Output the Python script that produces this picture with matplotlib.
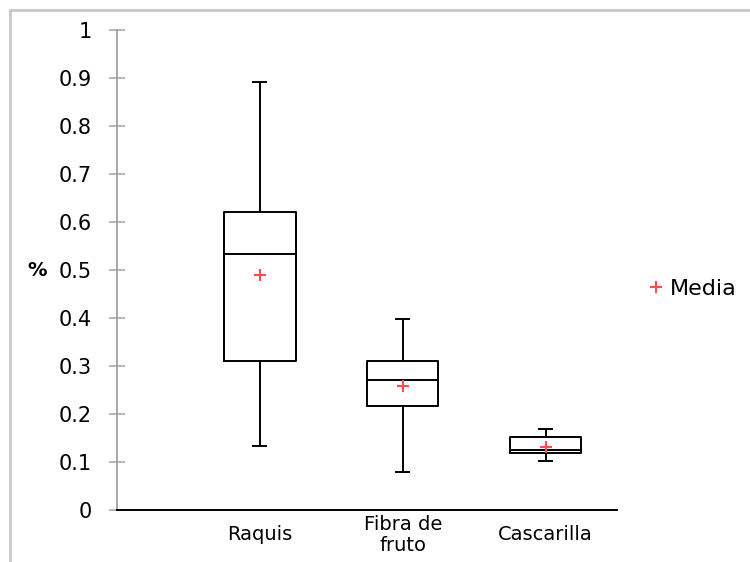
import matplotlib.pyplot as plt
from matplotlib.lines import Line2D
from matplotlib.patches import Rectangle

# box plot summaries
categories = ['Raquis', 'Fibra de\nfruto', 'Cascarilla']
whisker_low = [0.133, 0.080, 0.102]
q1 = [0.310, 0.217, 0.119]
median = [0.533, 0.270, 0.126]
q3 = [0.620, 0.310, 0.153]
whisker_high = [0.892, 0.398, 0.168]
mean = [0.490, 0.258, 0.132]

y_ticks = [0, 0.1, 0.2, 0.3, 0.4, 0.5, 0.6, 0.7, 0.8, 0.9, 1]
y_tick_labels = ['0', '0.1', '0.2', '0.3', '0.4', '0.5', '0.6', '0.7', '0.8', '0.9', '1']

stats = []
for i in range(len(categories)):
	stats.append({'whislo': whisker_low[i], 'q1': q1[i], 'med': median[i],
				  'q3': q3[i], 'whishi': whisker_high[i], 'mean': mean[i],
				  'fliers': []})

fig = plt.figure(figsize=(7.5, 5.62), dpi=100)
ax = fig.add_axes([117/750, 1 - 510/562, 500/750, 480/562])

# light grey frame around the chart area
fig.patches.append(Rectangle((10/750, -0.1), 1.2, 1 - 10/562 + 0.1, transform=fig.transFigure,
							 fill=False, edgecolor='#c8c8c8', linewidth=2))

line = {'color': 'black', 'linewidth': 1.4}
ax.bxp(stats, positions=[1, 2, 3], widths=0.5, capwidths=0.09, showmeans=True,
	   showfliers=False, boxprops=line, whiskerprops=line, capprops=line,
	   medianprops=line,
	   meanprops={'marker': '+', 'markeredgecolor': '#ff4d4d', 'markersize': 9,
				  'markeredgewidth': 1.5})

ax.set_xlim(0, 3.5)
ax.set_ylim(0, 1)
ax.set_yticks(y_ticks)
ax.set_yticklabels(y_tick_labels, fontsize=15)
ax.set_xticks([1, 2, 3])
ax.set_xticklabels(categories, fontsize=14, linespacing=1.1)
for lab in ax.get_xticklabels():
	lab.set_va('center')
ax.tick_params(axis='x', length=0, pad=18)
ax.tick_params(axis='y', direction='inout', length=12, width=1.2, color='#aaaaaa', pad=12)

for side in ['top', 'right']:
	ax.spines[side].set_visible(False)
ax.spines['left'].set_color('#999999')
ax.spines['left'].set_linewidth(1.2)
ax.spines['bottom'].set_color('black')
ax.spines['bottom'].set_linewidth(1.4)

ax.set_ylabel('%', rotation=0, fontsize=14, fontweight='bold', va='center')
ax.yaxis.set_label_coords(-0.16, 0.5)

handle = Line2D([], [], linestyle='none', marker='+', markeredgecolor='#ff4d4d',
				markersize=9, markeredgewidth=1.5)
fig.legend([handle], ['Media'], loc='center left', bbox_to_anchor=(0.86, 1 - 289/562),
		   frameon=False, fontsize=16, handletextpad=0.1, handlelength=1.0,
		   borderaxespad=0, borderpad=0)

fig.savefig('out.png', dpi=100)
